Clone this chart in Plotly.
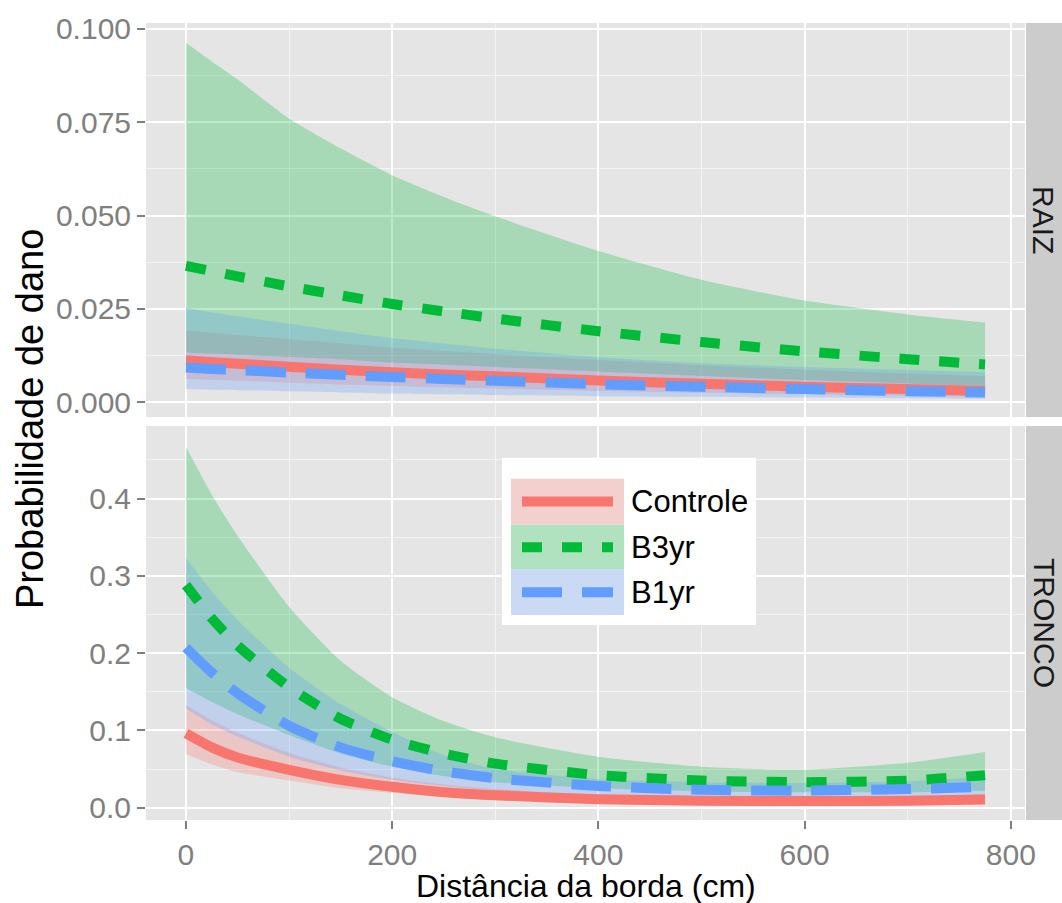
import plotly.graph_objects as go

# ---------------- data ----------------
distance = [0, 25, 50, 100, 150, 200, 250, 300, 400, 500, 600, 700, 775]
groups = ["Controle", "B3yr", "B1yr"]
panels = ["RAIZ", "TRONCO"]

# RAIZ panel
raiz_controle_fit = [0.0112, 0.0107, 0.0103, 0.0095, 0.0087, 0.0080, 0.0074, 0.0069, 0.0058, 0.0049, 0.0041, 0.0035, 0.0030]
raiz_controle_hi = [0.0192, 0.0186, 0.0180, 0.0169, 0.0158, 0.0146, 0.0137, 0.0129, 0.0113, 0.0099, 0.0087, 0.0077, 0.0069]
raiz_controle_lo = [0.0062, 0.0060, 0.0057, 0.0052, 0.0047, 0.0043, 0.0039, 0.0036, 0.0030, 0.0025, 0.0021, 0.0017, 0.0015]

raiz_b3yr_fit = [0.0365, 0.0351, 0.0337, 0.0310, 0.0286, 0.0263, 0.0243, 0.0224, 0.0190, 0.0161, 0.0136, 0.0115, 0.0101]
raiz_b3yr_hi = [0.0963, 0.0913, 0.0865, 0.0760, 0.0680, 0.0608, 0.0550, 0.0498, 0.0405, 0.0328, 0.0272, 0.0235, 0.0213]
raiz_b3yr_lo = [0.0133, 0.0130, 0.0127, 0.0121, 0.0115, 0.0106, 0.0100, 0.0094, 0.0082, 0.0070, 0.0059, 0.0050, 0.0043]

raiz_b1yr_fit = [0.0093, 0.0089, 0.0086, 0.0079, 0.0073, 0.0067, 0.0062, 0.0057, 0.0048, 0.0041, 0.0035, 0.0029, 0.0026]
raiz_b1yr_hi = [0.0253, 0.0241, 0.0230, 0.0210, 0.0190, 0.0172, 0.0157, 0.0143, 0.0120, 0.0104, 0.0094, 0.0086, 0.0080]
raiz_b1yr_lo = [0.0035, 0.0033, 0.0032, 0.0029, 0.0026, 0.0023, 0.0021, 0.0019, 0.0016, 0.0014, 0.0012, 0.0010, 0.0009]

# TRONCO panel
tronco_controle_fit = [0.096, 0.078, 0.065, 0.049, 0.036, 0.027, 0.020, 0.016, 0.011, 0.009, 0.0085, 0.009, 0.0105]
tronco_controle_hi = [0.133, 0.113, 0.097, 0.071, 0.052, 0.039, 0.030, 0.024, 0.017, 0.015, 0.014, 0.015, 0.017]
tronco_controle_lo = [0.069, 0.056, 0.046, 0.035, 0.025, 0.019, 0.014, 0.010, 0.007, 0.005, 0.005, 0.005, 0.006]

tronco_b3yr_fit = [0.288, 0.245, 0.210, 0.156, 0.115, 0.088, 0.070, 0.057, 0.042, 0.035, 0.033, 0.035, 0.042]
tronco_b3yr_hi = [0.467, 0.405, 0.352, 0.260, 0.190, 0.143, 0.112, 0.091, 0.066, 0.053, 0.049, 0.058, 0.072]
tronco_b3yr_lo = [0.155, 0.137, 0.121, 0.094, 0.070, 0.053, 0.041, 0.033, 0.025, 0.021, 0.020, 0.020, 0.022]

tronco_b1yr_fit = [0.207, 0.175, 0.148, 0.106, 0.078, 0.060, 0.047, 0.038, 0.028, 0.023, 0.022, 0.024, 0.027]
tronco_b1yr_hi = [0.323, 0.280, 0.243, 0.181, 0.134, 0.098, 0.068, 0.050, 0.037, 0.033, 0.032, 0.034, 0.040]
tronco_b1yr_lo = [0.128, 0.108, 0.092, 0.066, 0.048, 0.036, 0.028, 0.022, 0.016, 0.013, 0.013, 0.014, 0.016]

x_ticks = [0, 200, 400, 600, 800]
raiz_ticks = [0.0, 0.025, 0.05, 0.075, 0.1]
tronco_ticks = [0.0, 0.1, 0.2, 0.3, 0.4]

# ---------------- styling ----------------
colors = {"Controle": "#F8766D", "B3yr": "#00BA38", "B1yr": "#619CFF"}
fills = {"Controle": "rgba(248,118,109,0.27)", "B3yr": "rgba(0,186,56,0.27)", "B1yr": "rgba(97,156,255,0.27)"}
dashes = {"Controle": "solid", "B3yr": "20px,20px", "B1yr": "40px,20px"}
FONT = "Liberation Sans, Arial, sans-serif"
W, H = 1062, 903
L, R, T, B = 146, 37, 19, 83
PW, PH = W - L - R, H - T - B


def px2x(px):
    return (px - L) / PW


def py2y(py):
    return (H - B - py) / PH


data = {
    "RAIZ": {
        "Controle": (raiz_controle_fit, raiz_controle_lo, raiz_controle_hi),
        "B3yr": (raiz_b3yr_fit, raiz_b3yr_lo, raiz_b3yr_hi),
        "B1yr": (raiz_b1yr_fit, raiz_b1yr_lo, raiz_b1yr_hi),
    },
    "TRONCO": {
        "Controle": (tronco_controle_fit, tronco_controle_lo, tronco_controle_hi),
        "B3yr": (tronco_b3yr_fit, tronco_b3yr_lo, tronco_b3yr_hi),
        "B1yr": (tronco_b1yr_fit, tronco_b1yr_lo, tronco_b1yr_hi),
    },
}

fig = go.Figure()
axes = {"RAIZ": ("x", "y"), "TRONCO": ("x2", "y2")}
for panel in panels:
    xa, ya = axes[panel]
    for g in groups:
        fit, lo, hi = data[panel][g]
        fig.add_trace(go.Scatter(
            x=distance, y=lo, mode="lines", line=dict(width=0, shape="spline", smoothing=0.6),
            showlegend=False, hoverinfo="skip", xaxis=xa, yaxis=ya))
        fig.add_trace(go.Scatter(
            x=distance, y=hi, mode="lines", fill="tonexty", fillcolor=fills[g],
            line=dict(width=0, shape="spline", smoothing=0.6),
            showlegend=False, hoverinfo="skip", xaxis=xa, yaxis=ya))
    for g in groups:
        fit, lo, hi = data[panel][g]
        fig.add_trace(go.Scatter(
            x=distance, y=fit, mode="lines", name=g,
            line=dict(color=colors[g], width=10, dash=dashes[g], shape="spline", smoothing=0.6),
            showlegend=False, xaxis=xa, yaxis=ya))

top_dom = [py2y(415), 1.0]
bot_dom = [0.0, py2y(424)]

grid = dict(showgrid=True, gridcolor="white", gridwidth=2, zeroline=False,
            showline=False)
minor_common = dict(showgrid=True, gridcolor="#F4F4F4", gridwidth=1, ticks="")
tickfont = dict(family=FONT, size=30, color="#7F7F7F")

fig.update_layout(
    width=W, height=H,
    margin=dict(l=L, r=R, t=T, b=B, pad=0),
    paper_bgcolor="white", plot_bgcolor="#E5E5E5",
    showlegend=False,
    xaxis=dict(domain=[0, 1], anchor="y", range=[-38.75, 813.75], tickvals=x_ticks,
               showticklabels=False, ticks="", minor=dict(dtick=100, tick0=0, **minor_common), **grid),
    xaxis2=dict(domain=[0, 1], anchor="y2", matches="x", range=[-38.75, 813.75], tickvals=x_ticks,
                ticktext=[str(v) for v in x_ticks], ticks="outside", ticklen=8, tickwidth=2,
                tickcolor="#7F7F7F", tickfont=tickfont,
                minor=dict(dtick=100, tick0=0, **minor_common), **grid),
    yaxis=dict(domain=top_dom, anchor="x", range=[-0.004, 0.1016], tickvals=raiz_ticks,
               ticktext=[f"{v:.3f}" for v in raiz_ticks], ticks="outside", ticklen=8, tickwidth=2,
               tickcolor="#7F7F7F", tickfont=tickfont,
               minor=dict(dtick=0.0125, tick0=0, **minor_common), **grid),
    yaxis2=dict(domain=bot_dom, anchor="x2", range=[-0.016, 0.494], tickvals=tronco_ticks,
                ticktext=[f"{v:.1f}" for v in tronco_ticks], ticks="outside", ticklen=8, tickwidth=2,
                tickcolor="#7F7F7F", tickfont=tickfont,
                minor=dict(dtick=0.05, tick0=0, **minor_common), **grid),
)

shapes = []
annotations = []
# facet strips
strip_x0, strip_x1 = px2x(1026), px2x(1062)
for panel, (y0, y1) in zip(panels, [top_dom, bot_dom]):
    shapes.append(dict(type="rect", xref="paper", yref="paper", x0=strip_x0, x1=strip_x1,
                       y0=y0, y1=y1, fillcolor="#CCCCCC", line=dict(width=0), layer="below"))
    annotations.append(dict(text=panel, xref="paper", yref="paper", x=(strip_x0 + strip_x1) / 2,
                            y=(y0 + y1) / 2, showarrow=False, textangle=90,
                            font=dict(family=FONT, size=30, color="#1A1A1A"),
                            xanchor="center", yanchor="middle"))

# axis titles
annotations.append(dict(text="Distância da borda (cm)", xref="paper", yref="paper",
                        x=0.5, y=py2y(886), showarrow=False, xanchor="center", yanchor="middle",
                        font=dict(family=FONT, size=32, color="black")))
annotations.append(dict(text="Probabilidade de dano", xref="paper", yref="paper",
                        x=px2x(30), y=py2y(417), showarrow=False, textangle=-90,
                        xanchor="center", yanchor="middle",
                        font=dict(family=FONT, size=38, color="black")))

# legend (drawn inside the TRONCO panel)
shapes.append(dict(type="rect", xref="paper", yref="paper", x0=px2x(502), x1=px2x(756),
                   y0=py2y(624), y1=py2y(456), fillcolor="white", line=dict(width=0)))
row_tops = [477, 523, 568]
row_h = 46
for g, top in zip(groups, row_tops):
    for fc in ["#F2F2F2", fills[g]]:
        shapes.append(dict(type="rect", xref="paper", yref="paper", x0=px2x(511), x1=px2x(624),
                           y0=py2y(top + row_h), y1=py2y(top), fillcolor=fc, line=dict(width=0)))
    yc = py2y(top + row_h / 2)
    shapes.append(dict(type="line", xref="paper", yref="paper", x0=px2x(522), x1=px2x(613),
                       y0=yc, y1=yc, line=dict(color=colors[g], width=10, dash=dashes[g])))
    annotations.append(dict(text=g, xref="paper", yref="paper", x=px2x(629), y=yc,
                            showarrow=False, xanchor="left", yanchor="middle",
                            font=dict(family=FONT, size=31, color="black")))

fig.update_layout(shapes=shapes, annotations=annotations)
fig.write_html("out.html", config={"displayModeBar": False},
               post_script="document.body.style.margin='0';document.body.style.overflow='hidden';")
